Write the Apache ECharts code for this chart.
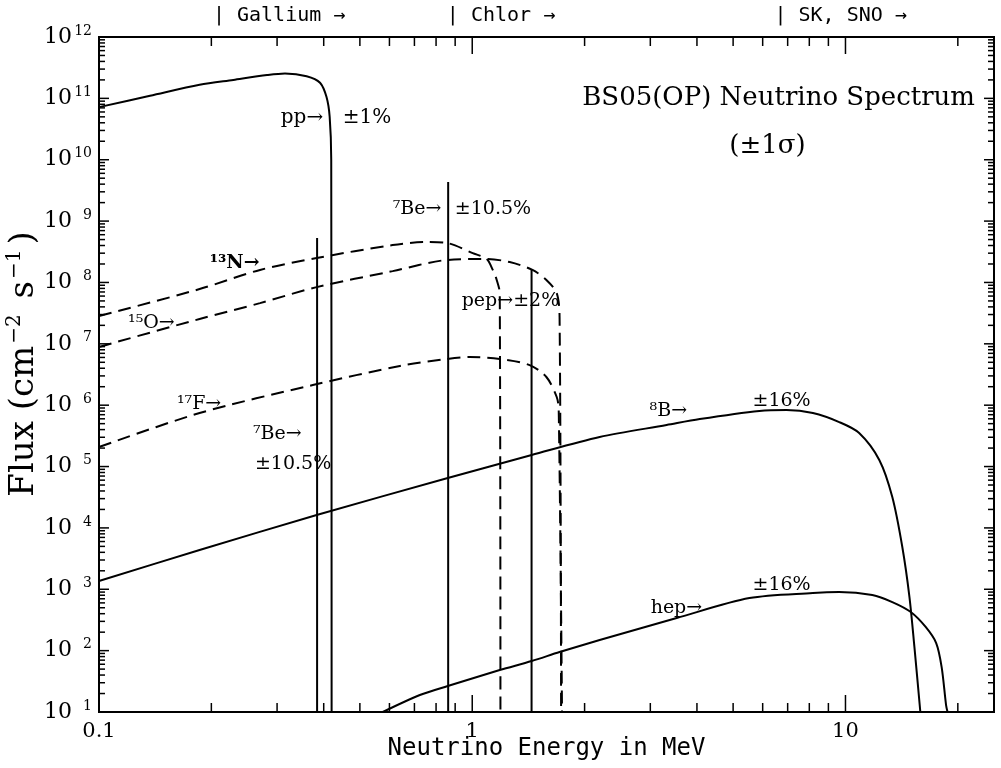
<!DOCTYPE html>
<html><head><meta charset="utf-8">
<script src="https://cdn.jsdelivr.net/npm/echarts@6/dist/echarts.min.js"></script>
<style>html,body{margin:0;padding:0;background:#fff}#c{width:1001px;height:768px}</style>
</head><body><div id="c"></div>
<script>
// ---- data ----
const ppE  = [0.100, 0.137, 0.186, 0.229, 0.282, 0.315, 0.360, 0.391, 0.407, 0.415, 0.419, 0.420];
const ppF  = [7.2e10, 1.1e11, 1.66e11, 2.0e11, 2.4e11, 2.55e11, 2.3e11, 1.8e11, 1.05e11, 5.0e10, 1.0e10, 10];

const n13E = [0.100, 0.186, 0.270, 0.383, 0.612, 0.755, 0.854, 1.003, 1.093, 1.135, 1.163, 1.185, 1.190];
const n13F = [2.84e7, 7.8e7, 1.6e8, 2.5e8, 4.07e8, 4.56e8, 4.4e8, 3.0e8, 2.41e8, 1.6e8, 1.1e8, 6.7e7, 10];

const o15E = [0.100, 0.186, 0.270, 0.383, 0.612, 0.854, 1.093, 1.260, 1.450, 1.580, 1.684, 1.714, 1.730];
const o15F = [8.9e6, 2.54e7, 4.6e7, 8.4e7, 1.53e8, 2.32e8, 2.41e8, 2.15e8, 1.6e8, 1.1e8, 6.7e7, 2.7e7, 10];

const f17E = [0.100, 0.186, 0.374, 0.640, 0.854, 0.985, 1.185, 1.425, 1.580, 1.684, 1.705, 1.740];
const f17F = [2.08e5, 7.45e5, 2.13e6, 4.35e6, 5.65e6, 6.1e6, 5.65e6, 4.5e6, 2.88e6, 1.36e6, 8.3e5, 10];

const b8E  = [0.100, 0.186, 0.383, 0.860, 1.443, 2.195, 3.317, 4.070, 5.880, 6.950, 8.180, 9.620, 10.88, 12.32, 13.35, 14.20, 14.84, 15.30, 15.87];
const b8F  = [1.36e3, 4.37e3, 1.62e4, 6.5e4, 1.54e5, 3.03e5, 4.75e5, 5.94e5, 8.04e5, 8.34e5, 7.45e5, 5.31e5, 3.52e5, 1.28e5, 3.18e4, 4.88e3, 748, 115, 10];

const hepE = [0.576, 0.724, 0.860, 1.185, 1.443, 1.714, 2.195, 3.530, 5.530, 8.180, 9.620, 11.80, 13.35, 14.96, 16.40, 17.50, 18.10, 18.60, 18.77];
const hepF = [10, 18.9, 26.5, 48.3, 67.6, 94.8, 149, 340, 719, 869, 902, 805, 619, 426, 243, 133, 54, 13, 10];

// line sources (7Be 0.384, 7Be 0.862, pep 1.442)
const lineE = [0.384, 0.862, 1.442];
const lineF = [5.3e8, 4.33e9, 1.6e8];

// axis tick labels
const xTickLabels = ['0.1', '1', '10'];
const xTickValues = [0.1, 1, 10];
const yTickExponents = [1, 2, 3, 4, 5, 6, 7, 8, 9, 10, 11, 12];

// annotations
const annText = ['pp\u2192', '\u00b11%', 'BS05(OP) Neutrino Spectrum', '(\u00b11\u03c3)',
  '\u2077Be\u2192', '\u00b110.5%', '\u00b9\u00b3N\u2192', '\u00b9\u2075O\u2192', 'pep\u2192\u00b12%',
  '\u00b9\u2077F\u2192', '\u2077Be\u2192', '\u00b110.5%', '\u2078B\u2192', '\u00b116%', 'hep\u2192', '\u00b116%',
  '| Gallium \u2192', '| Chlor \u2192', '| SK, SNO \u2192'];
const annE = [0.307, 0.450, 6.62, 6.18, 0.612, 0.898, 0.198, 0.1196, 0.937, 0.1617, 0.2585, 0.2617, 2.987, 5.636, 3.006, 5.636, 0.2019, 0.855, 6.45];
const annF = [4.8e10, 4.8e10, 1.01e11, 1.67e10, 1.57e9, 1.57e9, 2.07e8, 2.18e7, 4.99e7, 1.04e6, 3.39e5, 1.1e5, 8.04e5, 1.17e6, 494, 1172, 2.2e12, 2.2e12, 2.2e12];

// ---- chart ----
const X_MIN = 0.1, X_MAX = 25, Y_MIN = 10, Y_MAX = 1e12;
const SERIF = "'DejaVu Serif', serif";
const MONO = "'DejaVu Sans Mono', monospace";
const annSize = [20, 20, 26, 26, 19, 19, 19, 19, 19, 19, 19, 19, 19, 19, 19, 19, 20, 20, 20];
const annAlign = annText.map((t, i) => (i === 2 || i === 3) ? 'center' : 'left');
const annFont = annText.map((t, i) => i >= 16 ? MONO : SERIF);
const annWeight = annText.map((t, i) => i === 6 ? 'bold' : 'normal');

const zip = (a, b) => a.map((v, i) => [v, b[i]]);
const solid = {color: '#000', width: 2, type: 'solid'};
const dashed = {color: '#000', width: 2, type: [13, 7]};
function lineSeries(data, style, smooth) {
  return {type: 'line', data: data, showSymbol: false, symbol: 'none', lineStyle: style,
    smooth: smooth || false,
    clip: true, silent: true, animation: false, z: 3};
}
const series = [
  lineSeries(zip(ppE, ppF), solid, 0.3),
  lineSeries(zip(n13E, n13F), dashed, 0.3),
  lineSeries(zip(o15E, o15F), dashed, 0.3),
  lineSeries(zip(f17E, f17F), dashed, 0.3),
  lineSeries(zip(b8E, b8F), solid, 0.3),
  lineSeries(zip(hepE, hepF), solid, 0.3)
];
lineE.forEach((e, i) => series.push(lineSeries([[e, lineF[i]], [e, Y_MIN]], solid)));

// tick marks (minor + major, mirrored on the opposite side) and tick labels
const tickData = [];
for (let k = -1; k <= 1; k++) for (let m = 2; m <= 9; m++) { const v = m * Math.pow(10, k); if (v < X_MAX) tickData.push([v, 1e6, 0]); }
[1, 10].forEach(v => tickData.push([v, 1e6, 1]));
for (let k = 1; k <= 11; k++) for (let m = 2; m <= 9; m++) tickData.push([1, m * Math.pow(10, k), 2]);
for (let k = 2; k <= 11; k++) tickData.push([1, Math.pow(10, k), 3]);
yTickExponents.forEach(k => tickData.push([1, Math.pow(10, k), 4]));
xTickValues.forEach(v => tickData.push([v, 1e6, 5]));
const tickLen = [9, 17, 6, 10];
const richY = {
  b: {fontFamily: SERIF, fontSize: 22, fill: '#000', lineHeight: 26},
  s: {fontFamily: SERIF, fontSize: 14, fill: '#000', width: 20, align: 'right', verticalAlign: 'top', lineHeight: 15}
};
series.push({
  type: 'custom', data: tickData, silent: true, animation: false, z: 5, clip: false,
  encode: {x: 0, y: 1},
  renderItem: function (params, api) {
    const cs = params.coordSys; const kind = api.value(2);
    const p = api.coord([api.value(0), api.value(1)]);
    if (kind === 4) {
      const k = Math.round(Math.log10(api.value(1)));
      return {type: 'text', x: cs.x - 7, y: p[1], style: {text: '{b|10}{s|' + k + '}', rich: richY, align: 'right', verticalAlign: 'middle'}};
    }
    if (kind === 5) {
      const idx = xTickValues.indexOf(api.value(0));
      return {type: 'text', x: p[0], y: cs.y + cs.height + 9, style: {text: xTickLabels[idx], fontFamily: SERIF, fontSize: 21, fill: '#000', align: 'center', verticalAlign: 'top'}};
    }
    const L = tickLen[kind];
    let segs;
    if (kind < 2) { const x = p[0], b = cs.y + cs.height, t = cs.y; segs = [[x, b, x, b - L], [x, t, x, t + L]]; }
    else { const y = p[1], l = cs.x, r = cs.x + cs.width; segs = [[l, y, l + L, y], [r, y, r - L, y]]; }
    return {type: 'group', children: segs.map(s => ({type: 'line', shape: {x1: s[0], y1: s[1], x2: s[2], y2: s[3]}, style: {stroke: '#000', lineWidth: 1.5}}))};
  }
});

// annotation texts anchored at data coordinates
series.push({
  type: 'custom', data: annText.map((t, i) => [annE[i], annF[i], i]), silent: true, animation: false, z: 6, clip: false,
  encode: {x: 0, y: 1},
  renderItem: function (params, api) {
    const i = api.value(2);
    const p = api.coord([api.value(0), api.value(1)]);
    return {type: 'text', x: p[0], y: p[1], style: {text: annText[i], fontFamily: annFont[i], fontSize: annSize[i], fontWeight: annWeight[i], fill: '#000', align: annAlign[i], verticalAlign: 'middle'}};
  }
});

const option = {
  backgroundColor: '#fff',
  animation: false,
  grid: {left: 99, top: 37, width: 895, height: 675, show: true, borderColor: '#000', borderWidth: 2, backgroundColor: 'transparent'},
  xAxis: {
    type: 'log', logBase: 10, min: X_MIN, max: X_MAX,
    axisLine: {show: false}, axisTick: {show: false}, splitLine: {show: false}, axisLabel: {show: false},
    name: 'Neutrino Energy in MeV', nameLocation: 'middle', nameGap: 25,
    nameTextStyle: {fontFamily: MONO, fontSize: 24, color: '#000', verticalAlign: 'top'}
  },
  yAxis: {
    type: 'log', logBase: 10, min: Y_MIN, max: Y_MAX,
    axisLine: {show: false}, axisTick: {show: false}, splitLine: {show: false}, axisLabel: {show: false}
  },
  graphic: [{
    type: 'text', x: 24, y: 364, rotation: Math.PI / 2,
    style: {
      text: '{m|Flux (cm}{s|\u22122}{m| s}{s|\u22121}{m|)}', align: 'center', verticalAlign: 'middle',
      rich: {
        m: {fontFamily: SERIF, fontSize: 34, fill: '#000', lineHeight: 38},
        s: {fontFamily: SERIF, fontSize: 20, fill: '#000', verticalAlign: 'top', lineHeight: 20, padding: [0, 5, 0, 2]}
      }
    }
  }],
  series: series
};
const chart = echarts.init(document.getElementById('c'), null, {renderer: 'canvas'});
chart.setOption(option);
</script>
</body></html>
